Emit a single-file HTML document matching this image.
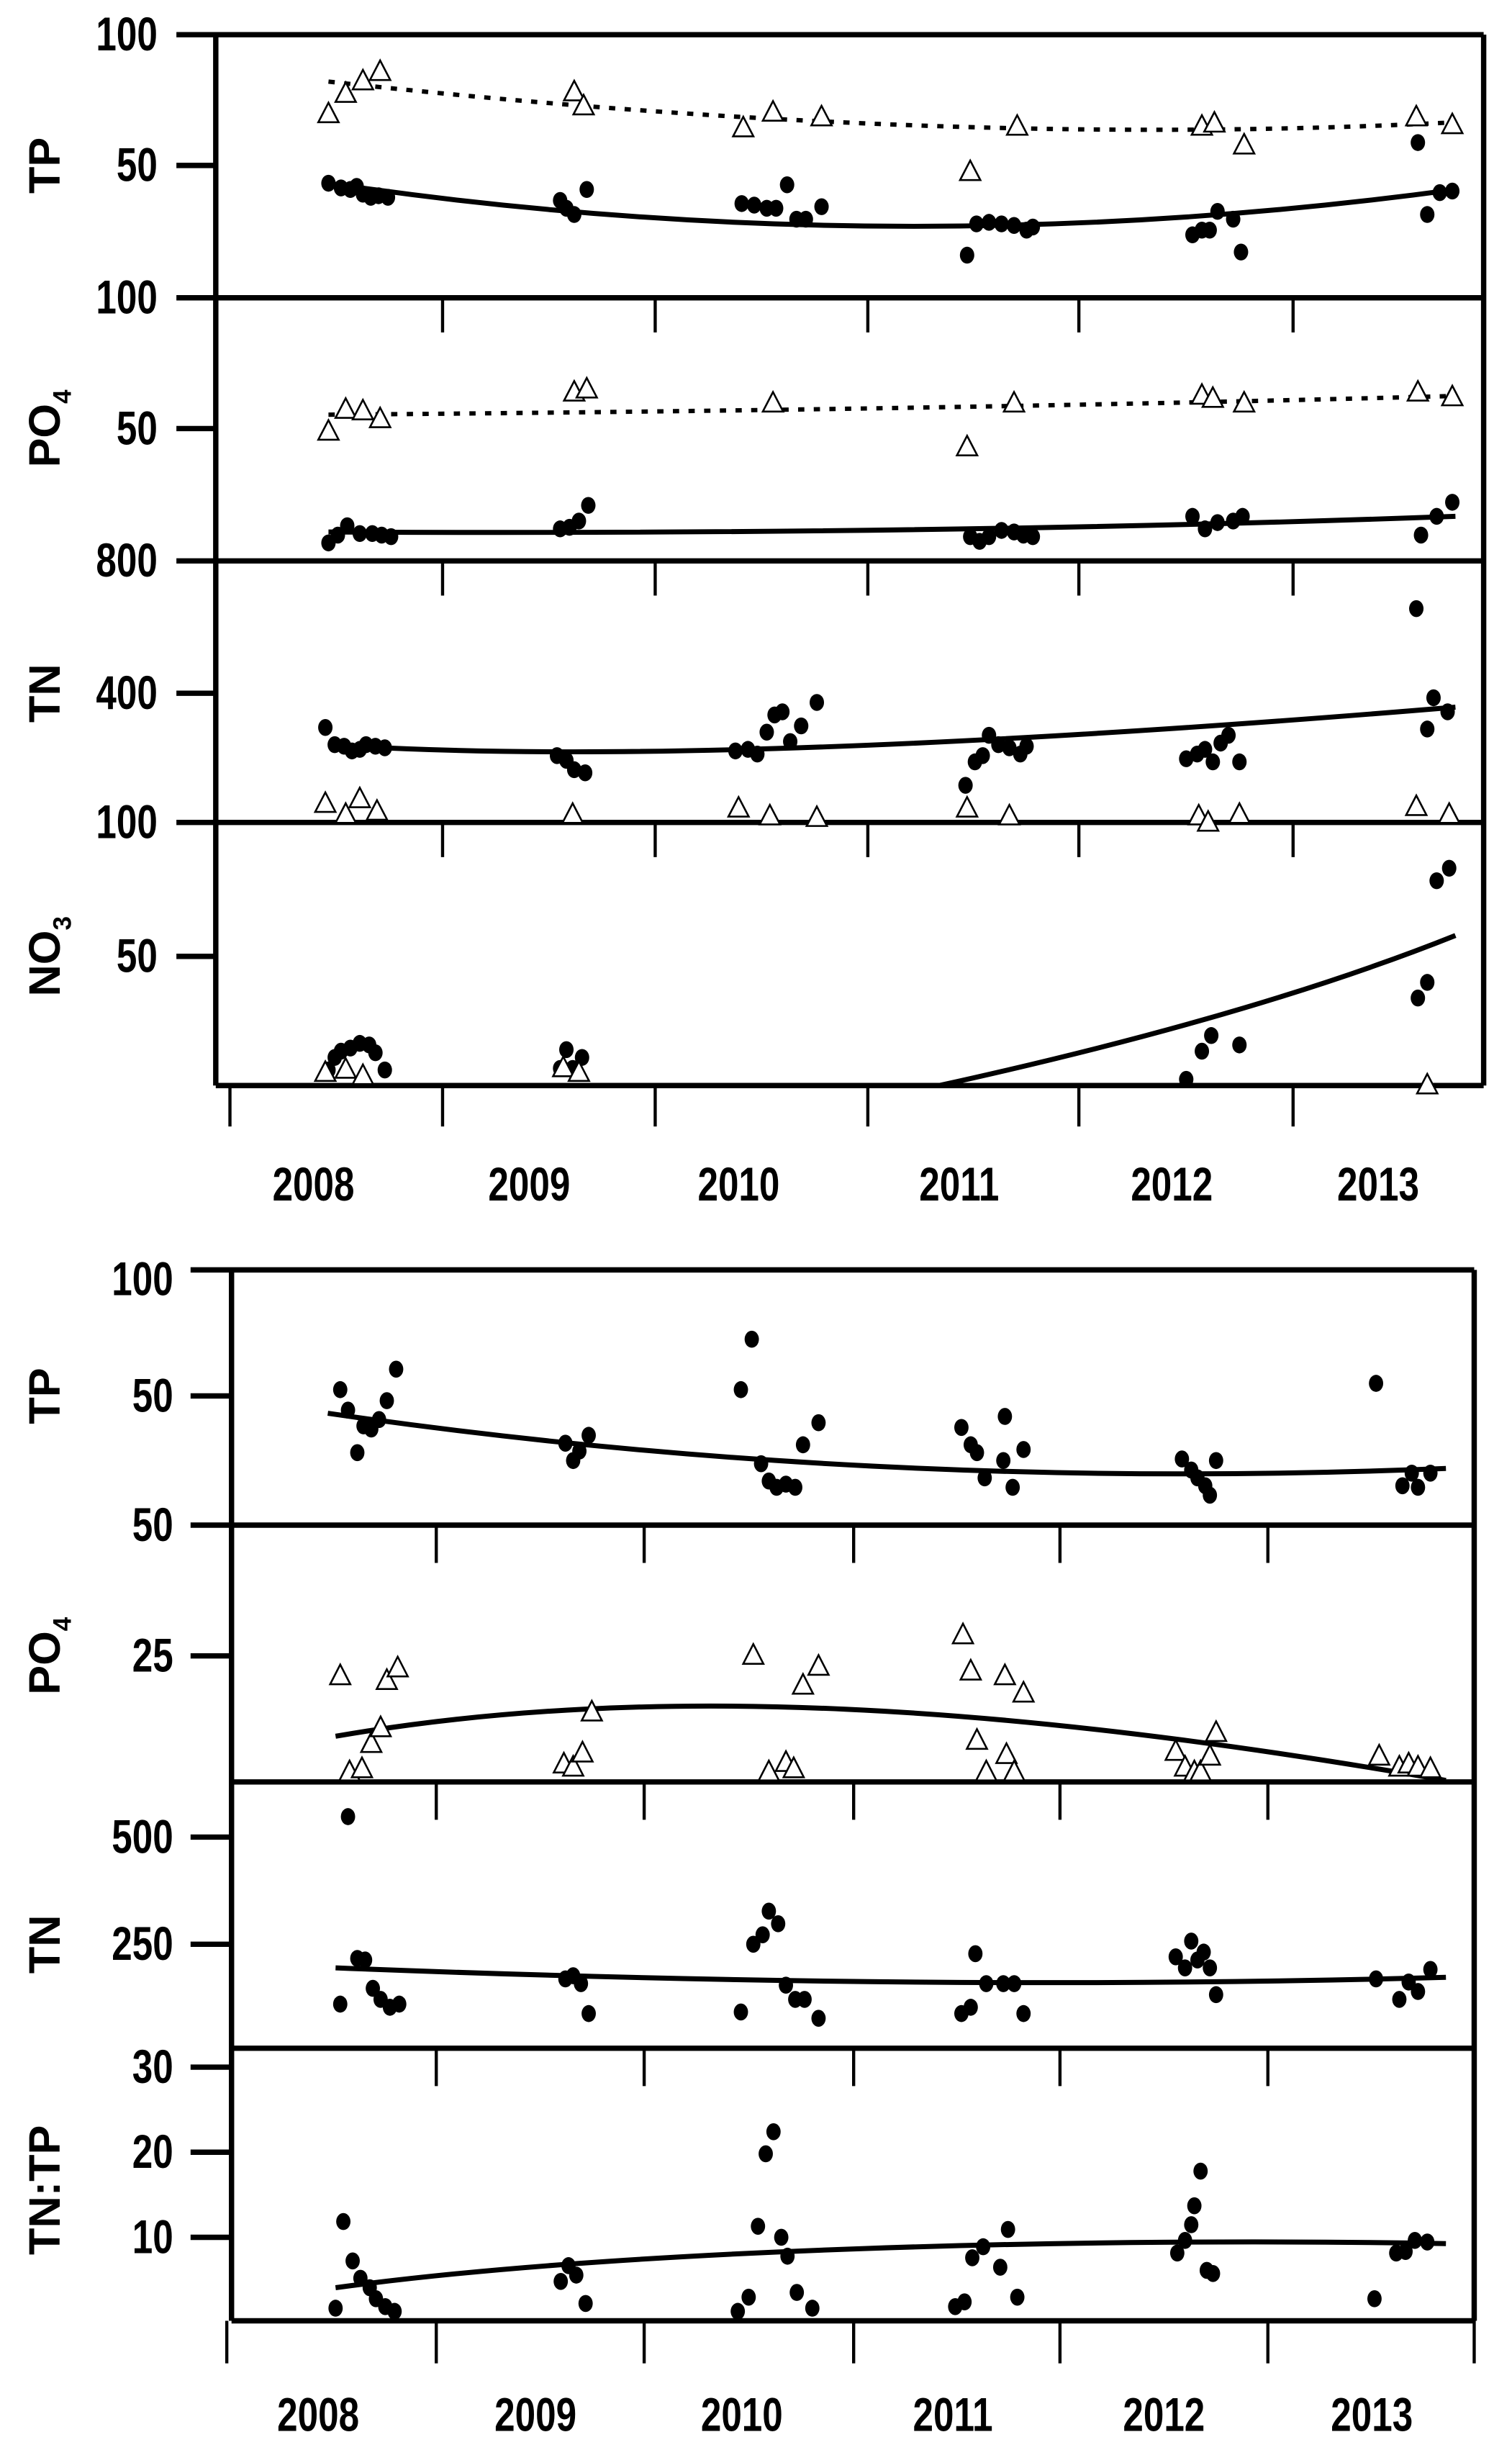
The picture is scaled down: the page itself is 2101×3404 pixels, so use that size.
<!DOCTYPE html>
<html><head><meta charset="utf-8"><style>
html,body{margin:0;padding:0;background:#fff}
svg{display:block}
text{font-family:"Liberation Sans",sans-serif;font-weight:bold;fill:#000}
</style></head><body>
<svg width="2101" height="3404" viewBox="0 0 960 1555" preserveAspectRatio="none" xmlns="http://www.w3.org/2000/svg">
<defs>
<ellipse id="d" rx="4.6" ry="5.4" fill="#000"/>
<path id="t" d="M0,-7.5 L-6.5,5 L6.5,5 Z" fill="#fff" stroke="#000" stroke-width="1.2"/>
</defs>
<g stroke="#000" fill="none" stroke-linecap="butt">
<g stroke-width="3.4">
<line x1="112" y1="22" x2="942" y2="22"/>
<line x1="112" y1="189" x2="942" y2="189"/>
<line x1="112" y1="356" x2="942" y2="356"/>
<line x1="112" y1="522" x2="942" y2="522"/>
<line x1="137" y1="689" x2="942" y2="689"/>
<line x1="137" y1="22" x2="137" y2="689"/>
<line x1="942" y1="22" x2="942" y2="689"/>
<line x1="112" y1="105" x2="137" y2="105"/>
<line x1="112" y1="272" x2="137" y2="272"/>
<line x1="112" y1="440" x2="137" y2="440"/>
<line x1="112" y1="607" x2="137" y2="607"/>
</g>
<g stroke-width="2">
<path d="M146,689V715M281,689V715M416,689V715M551,689V715M685,689V715M821,689V715"/>
<path d="M281,189V211M416,189V211M551,189V211M685,189V211M821,189V211"/>
<path d="M281,356V378M416,356V378M551,356V378M685,356V378M821,356V378"/>
<path d="M281,522V544M416,522V544M551,522V544M685,522V544M821,522V544"/>
</g>
<g stroke-width="3.4">
<line x1="121" y1="806" x2="936" y2="806"/>
<line x1="121" y1="968" x2="936" y2="968"/>
<line x1="147" y1="1131" x2="936" y2="1131"/>
<line x1="147" y1="1300" x2="936" y2="1300"/>
<line x1="147" y1="1473" x2="936" y2="1473"/>
<line x1="147" y1="806" x2="147" y2="1473"/>
<line x1="936" y1="806" x2="936" y2="1473"/>
<line x1="121" y1="886" x2="147" y2="886"/>
<line x1="121" y1="1051" x2="147" y2="1051"/>
<line x1="121" y1="1166" x2="147" y2="1166"/>
<line x1="121" y1="1234" x2="147" y2="1234"/>
<line x1="121" y1="1312" x2="147" y2="1312"/>
<line x1="121" y1="1366" x2="147" y2="1366"/>
<line x1="121" y1="1420" x2="147" y2="1420"/>
</g>
<g stroke-width="2">
<path d="M144,1473V1500M277,1473V1500M409,1473V1500M542,1473V1500M673,1473V1500M805,1473V1500M936,1473V1500"/>
<path d="M277,968V992M409,968V992M542,968V992M673,968V992M805,968V992"/>
<path d="M277,1131V1155M409,1131V1155M542,1131V1155M673,1131V1155M805,1131V1155"/>
<path d="M277,1300V1324M409,1300V1324M542,1300V1324M673,1300V1324M805,1300V1324"/>
</g>
</g>

<g font-size="26" text-anchor="end">
<text transform="translate(100,32) scale(0.9,1.15)">100</text><text transform="translate(100,115) scale(0.9,1.15)">50</text>
<text transform="translate(100,199) scale(0.9,1.15)">100</text><text transform="translate(100,282) scale(0.9,1.15)">50</text>
<text transform="translate(100,366) scale(0.9,1.15)">800</text><text transform="translate(100,450) scale(0.9,1.15)">400</text>
<text transform="translate(100,532) scale(0.9,1.15)">100</text><text transform="translate(100,617) scale(0.9,1.15)">50</text>
<text transform="translate(110,822) scale(0.9,1.15)">100</text><text transform="translate(110,896) scale(0.9,1.15)">50</text>
<text transform="translate(110,978) scale(0.9,1.15)">50</text><text transform="translate(110,1061) scale(0.9,1.15)">25</text>
<text transform="translate(110,1176) scale(0.9,1.15)">500</text><text transform="translate(110,1244) scale(0.9,1.15)">250</text>
<text transform="translate(110,1322) scale(0.9,1.15)">30</text><text transform="translate(110,1376) scale(0.9,1.15)">20</text><text transform="translate(110,1430) scale(0.9,1.15)">10</text>
</g>
<g font-size="26" text-anchor="middle">
<text transform="translate(199,762) scale(0.9,1.15)">2008</text><text transform="translate(336,762) scale(0.9,1.15)">2009</text><text transform="translate(469,762) scale(0.9,1.15)">2010</text>
<text transform="translate(609,762) scale(0.9,1.15)">2011</text><text transform="translate(744,762) scale(0.9,1.15)">2012</text><text transform="translate(875,762) scale(0.9,1.15)">2013</text>
<text transform="translate(202,1543) scale(0.9,1.15)">2008</text><text transform="translate(340,1543) scale(0.9,1.15)">2009</text><text transform="translate(471,1543) scale(0.9,1.15)">2010</text>
<text transform="translate(605,1543) scale(0.9,1.15)">2011</text><text transform="translate(739,1543) scale(0.9,1.15)">2012</text><text transform="translate(871,1543) scale(0.9,1.15)">2013</text>
</g>
<g font-size="28" text-anchor="middle">
<text transform="translate(38,105) rotate(-90)">TP</text>
<text transform="translate(38,272) rotate(-90)">PO<tspan font-size="16" dy="7">4</tspan></text>
<text transform="translate(38,440) rotate(-90)">TN</text>
<text transform="translate(38,607) rotate(-90)">NO<tspan font-size="16" dy="7">3</tspan></text>
<text transform="translate(38,886) rotate(-90)">TP</text>
<text transform="translate(38,1051) rotate(-90)">PO<tspan font-size="16" dy="7">4</tspan></text>
<text transform="translate(38,1234) rotate(-90)">TN</text>
<text transform="translate(38,1390) rotate(-90)">TN:TP</text>
</g>

<g transform="translate(137,22) scale(0.9938,0.9926) translate(-138,-22)">
<g fill="none" stroke="#000">
<path d="M210,52 Q600,95 930,78" stroke-width="2.8" stroke-dasharray="4,6"/>
<path d="M210,117 Q570,170 930,121" stroke-width="3.2"/>
<path d="M210,265 Q600,262 930,253" stroke-width="2.8" stroke-dasharray="4,6"/>
<path d="M210,340 Q600,342 930,330" stroke-width="3.2"/>
<path d="M210,476 Q450,492 930,452" stroke-width="3.2"/>
<path d="M600,694 Q800,650 930,598" stroke-width="3.2"/>
</g>
<g>
<use href="#d" x="210" y="117"/><use href="#d" x="218" y="120"/><use href="#d" x="224" y="121"/><use href="#d" x="228" y="119"/><use href="#d" x="232" y="124"/><use href="#d" x="237" y="126"/><use href="#d" x="242" y="125"/><use href="#d" x="248" y="126"/><use href="#d" x="358" y="128"/><use href="#d" x="362" y="133"/><use href="#d" x="367" y="137"/><use href="#d" x="375" y="121"/><use href="#d" x="474" y="130"/><use href="#d" x="482" y="131"/><use href="#d" x="490" y="133"/><use href="#d" x="496" y="133"/><use href="#d" x="503" y="118"/><use href="#d" x="509" y="140"/><use href="#d" x="515" y="140"/><use href="#d" x="525" y="132"/><use href="#d" x="618" y="163"/><use href="#d" x="624" y="143"/><use href="#d" x="632" y="142"/><use href="#d" x="640" y="143"/><use href="#d" x="648" y="144"/><use href="#d" x="656" y="147"/><use href="#d" x="660" y="145"/><use href="#d" x="762" y="150"/><use href="#d" x="768" y="147"/><use href="#d" x="773" y="147"/><use href="#d" x="778" y="135"/><use href="#d" x="788" y="140"/><use href="#d" x="793" y="161"/><use href="#d" x="906" y="91"/><use href="#d" x="912" y="137"/><use href="#d" x="920" y="123"/><use href="#d" x="928" y="122"/>
<use href="#t" x="210" y="73"/><use href="#t" x="221" y="60"/><use href="#t" x="232" y="52"/><use href="#t" x="243" y="46"/><use href="#t" x="367" y="59"/><use href="#t" x="373" y="68"/><use href="#t" x="475" y="82"/><use href="#t" x="494" y="72"/><use href="#t" x="525" y="75"/><use href="#t" x="620" y="110"/><use href="#t" x="650" y="81"/><use href="#t" x="768" y="81"/><use href="#t" x="776" y="79"/><use href="#t" x="795" y="93"/><use href="#t" x="905" y="75"/><use href="#t" x="928" y="80"/>
<use href="#t" x="210" y="276"/><use href="#t" x="221" y="262"/><use href="#t" x="232" y="263"/><use href="#t" x="243" y="268"/><use href="#t" x="367" y="251"/><use href="#t" x="375" y="249"/><use href="#t" x="494" y="258"/><use href="#t" x="618" y="286"/><use href="#t" x="648" y="258"/><use href="#t" x="768" y="253"/><use href="#t" x="775" y="255"/><use href="#t" x="795" y="258"/><use href="#t" x="906" y="251"/><use href="#t" x="928" y="254"/>
<use href="#d" x="210" y="347"/><use href="#d" x="216" y="342"/><use href="#d" x="222" y="336"/><use href="#d" x="230" y="341"/><use href="#d" x="238" y="341"/><use href="#d" x="244" y="342"/><use href="#d" x="250" y="343"/><use href="#d" x="358" y="338"/><use href="#d" x="364" y="337"/><use href="#d" x="370" y="333"/><use href="#d" x="376" y="323"/><use href="#d" x="620" y="343"/><use href="#d" x="626" y="346"/><use href="#d" x="632" y="343"/><use href="#d" x="640" y="339"/><use href="#d" x="648" y="340"/><use href="#d" x="654" y="342"/><use href="#d" x="660" y="343"/><use href="#d" x="762" y="330"/><use href="#d" x="770" y="338"/><use href="#d" x="778" y="334"/><use href="#d" x="788" y="333"/><use href="#d" x="794" y="330"/><use href="#d" x="908" y="342"/><use href="#d" x="918" y="330"/><use href="#d" x="928" y="321"/>
<use href="#d" x="208" y="465"/><use href="#d" x="214" y="476"/><use href="#d" x="220" y="477"/><use href="#d" x="225" y="480"/><use href="#d" x="230" y="479"/><use href="#d" x="234" y="476"/><use href="#d" x="240" y="477"/><use href="#d" x="246" y="478"/><use href="#d" x="356" y="483"/><use href="#d" x="362" y="486"/><use href="#d" x="367" y="492"/><use href="#d" x="374" y="494"/><use href="#d" x="470" y="480"/><use href="#d" x="478" y="479"/><use href="#d" x="484" y="482"/><use href="#d" x="490" y="468"/><use href="#d" x="495" y="457"/><use href="#d" x="500" y="455"/><use href="#d" x="505" y="474"/><use href="#d" x="512" y="464"/><use href="#d" x="522" y="449"/><use href="#d" x="617" y="502"/><use href="#d" x="623" y="487"/><use href="#d" x="628" y="483"/><use href="#d" x="632" y="470"/><use href="#d" x="638" y="476"/><use href="#d" x="645" y="478"/><use href="#d" x="652" y="482"/><use href="#d" x="656" y="477"/><use href="#d" x="758" y="485"/><use href="#d" x="765" y="482"/><use href="#d" x="770" y="479"/><use href="#d" x="775" y="487"/><use href="#d" x="780" y="475"/><use href="#d" x="785" y="470"/><use href="#d" x="792" y="487"/><use href="#d" x="905" y="389"/><use href="#d" x="912" y="466"/><use href="#d" x="916" y="446"/><use href="#d" x="925" y="455"/>
<use href="#t" x="208" y="514"/><use href="#t" x="221" y="521"/><use href="#t" x="230" y="511"/><use href="#t" x="241" y="519"/><use href="#t" x="366" y="521"/><use href="#t" x="472" y="517"/><use href="#t" x="492" y="522"/><use href="#t" x="522" y="523"/><use href="#t" x="618" y="517"/><use href="#t" x="645" y="522"/><use href="#t" x="766" y="522"/><use href="#t" x="772" y="526"/><use href="#t" x="792" y="521"/><use href="#t" x="905" y="516"/><use href="#t" x="926" y="521"/>
<use href="#d" x="210" y="684"/><use href="#d" x="214" y="676"/><use href="#d" x="218" y="672"/><use href="#d" x="224" y="670"/><use href="#d" x="230" y="667"/><use href="#d" x="236" y="668"/><use href="#d" x="240" y="673"/><use href="#d" x="246" y="684"/><use href="#d" x="358" y="683"/><use href="#d" x="362" y="671"/><use href="#d" x="366" y="683"/><use href="#d" x="372" y="676"/><use href="#d" x="758" y="690"/><use href="#d" x="768" y="672"/><use href="#d" x="774" y="662"/><use href="#d" x="792" y="668"/><use href="#d" x="906" y="638"/><use href="#d" x="912" y="628"/><use href="#d" x="918" y="563"/><use href="#d" x="926" y="555"/>
<use href="#t" x="208" y="686"/><use href="#t" x="221" y="684"/><use href="#t" x="232" y="688"/><use href="#t" x="360" y="683"/><use href="#t" x="370" y="686"/><use href="#t" x="912" y="694"/>
</g>
</g>

<g transform="translate(147,-8) scale(0.986,1) translate(-148,0)">
<g fill="none" stroke="#000" stroke-width="3.2">
<path d="M210,905 Q560,955 930,940"/>
<path d="M215,1110 C420,1075 650,1090 930,1138"/>
<path d="M215,1257 Q600,1272 930,1263"/>
<path d="M215,1460 C400,1435 700,1428 930,1432"/>
</g>
<g>
<use href="#d" x="218" y="890"/><use href="#d" x="223" y="903"/><use href="#d" x="229" y="930"/><use href="#d" x="233" y="913"/><use href="#d" x="238" y="915"/><use href="#d" x="243" y="909"/><use href="#d" x="248" y="897"/><use href="#d" x="254" y="877"/><use href="#d" x="363" y="924"/><use href="#d" x="368" y="935"/><use href="#d" x="372" y="929"/><use href="#d" x="378" y="919"/><use href="#d" x="476" y="890"/><use href="#d" x="483" y="858"/><use href="#d" x="489" y="937"/><use href="#d" x="494" y="948"/><use href="#d" x="499" y="952"/><use href="#d" x="505" y="950"/><use href="#d" x="511" y="952"/><use href="#d" x="516" y="925"/><use href="#d" x="526" y="911"/><use href="#d" x="618" y="914"/><use href="#d" x="624" y="925"/><use href="#d" x="628" y="930"/><use href="#d" x="633" y="946"/><use href="#d" x="645" y="935"/><use href="#d" x="646" y="907"/><use href="#d" x="651" y="952"/><use href="#d" x="658" y="928"/><use href="#d" x="760" y="934"/><use href="#d" x="766" y="941"/><use href="#d" x="770" y="946"/><use href="#d" x="775" y="951"/><use href="#d" x="778" y="957"/><use href="#d" x="782" y="935"/><use href="#d" x="885" y="886"/><use href="#d" x="902" y="951"/><use href="#d" x="908" y="943"/><use href="#d" x="912" y="952"/><use href="#d" x="920" y="943"/>
<use href="#t" x="218" y="1072"/><use href="#t" x="224" y="1133"/><use href="#t" x="232" y="1131"/><use href="#t" x="238" y="1115"/><use href="#t" x="244" y="1105"/><use href="#t" x="248" y="1075"/><use href="#t" x="255" y="1067"/><use href="#t" x="362" y="1128"/><use href="#t" x="368" y="1130"/><use href="#t" x="374" y="1121"/><use href="#t" x="380" y="1095"/><use href="#t" x="484" y="1059"/><use href="#t" x="494" y="1133"/><use href="#t" x="505" y="1127"/><use href="#t" x="510" y="1131"/><use href="#t" x="516" y="1078"/><use href="#t" x="526" y="1066"/><use href="#t" x="619" y="1046"/><use href="#t" x="624" y="1069"/><use href="#t" x="628" y="1113"/><use href="#t" x="634" y="1133"/><use href="#t" x="646" y="1072"/><use href="#t" x="647" y="1122"/><use href="#t" x="652" y="1133"/><use href="#t" x="658" y="1083"/><use href="#t" x="756" y="1120"/><use href="#t" x="762" y="1130"/><use href="#t" x="768" y="1133"/><use href="#t" x="772" y="1133"/><use href="#t" x="778" y="1123"/><use href="#t" x="782" y="1108"/><use href="#t" x="887" y="1123"/><use href="#t" x="900" y="1130"/><use href="#t" x="906" y="1128"/><use href="#t" x="912" y="1130"/><use href="#t" x="920" y="1131"/>
<use href="#d" x="218" y="1280"/><use href="#d" x="223" y="1161"/><use href="#d" x="229" y="1251"/><use href="#d" x="234" y="1252"/><use href="#d" x="239" y="1270"/><use href="#d" x="244" y="1277"/><use href="#d" x="250" y="1282"/><use href="#d" x="256" y="1280"/><use href="#d" x="363" y="1264"/><use href="#d" x="368" y="1262"/><use href="#d" x="373" y="1267"/><use href="#d" x="378" y="1286"/><use href="#d" x="476" y="1285"/><use href="#d" x="484" y="1242"/><use href="#d" x="490" y="1236"/><use href="#d" x="494" y="1221"/><use href="#d" x="500" y="1229"/><use href="#d" x="505" y="1268"/><use href="#d" x="511" y="1277"/><use href="#d" x="517" y="1277"/><use href="#d" x="526" y="1289"/><use href="#d" x="618" y="1286"/><use href="#d" x="624" y="1282"/><use href="#d" x="627" y="1248"/><use href="#d" x="634" y="1267"/><use href="#d" x="645" y="1267"/><use href="#d" x="652" y="1267"/><use href="#d" x="658" y="1286"/><use href="#d" x="756" y="1250"/><use href="#d" x="762" y="1257"/><use href="#d" x="766" y="1240"/><use href="#d" x="770" y="1252"/><use href="#d" x="774" y="1247"/><use href="#d" x="778" y="1257"/><use href="#d" x="782" y="1274"/><use href="#d" x="885" y="1264"/><use href="#d" x="900" y="1277"/><use href="#d" x="906" y="1266"/><use href="#d" x="912" y="1272"/><use href="#d" x="920" y="1258"/>
<use href="#d" x="215" y="1473"/><use href="#d" x="220" y="1418"/><use href="#d" x="226" y="1443"/><use href="#d" x="231" y="1454"/><use href="#d" x="237" y="1460"/><use href="#d" x="241" y="1467"/><use href="#d" x="247" y="1472"/><use href="#d" x="253" y="1475"/><use href="#d" x="360" y="1456"/><use href="#d" x="365" y="1446"/><use href="#d" x="370" y="1452"/><use href="#d" x="376" y="1470"/><use href="#d" x="474" y="1475"/><use href="#d" x="481" y="1466"/><use href="#d" x="487" y="1421"/><use href="#d" x="492" y="1375"/><use href="#d" x="497" y="1361"/><use href="#d" x="502" y="1428"/><use href="#d" x="506" y="1440"/><use href="#d" x="512" y="1463"/><use href="#d" x="522" y="1473"/><use href="#d" x="614" y="1472"/><use href="#d" x="620" y="1469"/><use href="#d" x="625" y="1441"/><use href="#d" x="632" y="1434"/><use href="#d" x="643" y="1447"/><use href="#d" x="648" y="1423"/><use href="#d" x="654" y="1466"/><use href="#d" x="757" y="1438"/><use href="#d" x="762" y="1430"/><use href="#d" x="766" y="1420"/><use href="#d" x="768" y="1408"/><use href="#d" x="772" y="1386"/><use href="#d" x="776" y="1449"/><use href="#d" x="780" y="1451"/><use href="#d" x="884" y="1467"/><use href="#d" x="898" y="1438"/><use href="#d" x="904" y="1437"/><use href="#d" x="910" y="1430"/><use href="#d" x="918" y="1431"/>
</g>
</g>
</svg>
</body></html>
